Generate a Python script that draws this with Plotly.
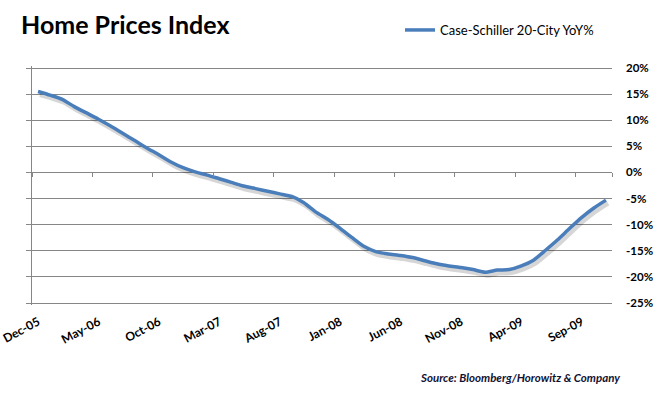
import plotly.graph_objects as go

# ---- data ----
months = [
    "Dec-05", "Jan-06", "Feb-06", "Mar-06", "Apr-06", "May-06", "Jun-06", "Jul-06",
    "Aug-06", "Sep-06", "Oct-06", "Nov-06", "Dec-06", "Jan-07", "Feb-07", "Mar-07",
    "Apr-07", "May-07", "Jun-07", "Jul-07", "Aug-07", "Sep-07", "Oct-07", "Nov-07",
    "Dec-07", "Jan-08", "Feb-08", "Mar-08", "Apr-08", "May-08", "Jun-08", "Jul-08",
    "Aug-08", "Sep-08", "Oct-08", "Nov-08", "Dec-08", "Jan-09", "Feb-09", "Mar-09",
    "Apr-09", "May-09", "Jun-09", "Jul-09", "Aug-09", "Sep-09", "Oct-09", "Nov-09",
]
yoy_pct = [
    15.5, 14.8, 14.0, 12.6, 11.4, 10.2, 8.9, 7.5,
    6.1, 4.7, 3.4, 2.0, 0.9, 0.1, -0.5, -1.2,
    -1.9, -2.6, -3.1, -3.6, -4.1, -4.6, -5.8, -7.6,
    -9.0, -10.7, -12.5, -14.2, -15.2, -15.6, -15.9, -16.3,
    -16.9, -17.5, -17.9, -18.2, -18.6, -19.1, -18.7, -18.6,
    -17.9, -16.8, -14.9, -12.9, -10.7, -8.6, -6.8, -5.3,
]
label_step = 5
y_ticks = [20, 15, 10, 5, 0, -5, -10, -15, -20, -25]
y_tick_text = ["20%", "15%", "10%", "5%", "0%", "-5%", "-10%", "-15%", "-20%", "-25%"]
series_name = "Case-Schiller 20-City YoY%"
title_text = "Home Prices Index"
source_text = "Source: Bloomberg/Horowitz & Company"

# ---- derived ----
n = len(months)
xi = list(range(n))
x_label_vals = xi[::label_step]
x_label_text = months[::label_step]
boundaries = [i - 0.5 for i in range(0, n, label_step)] + [n - 0.5]

W, H = 659, 396
grid_top_px, grid_bot_px = 68, 303      # pixel rows of the 20% and -25% gridlines
edge_px = 2                              # keep edge gridlines inside the plot area
ml, mr = 32, 47
mt, mb = grid_top_px - edge_px, H - grid_bot_px - edge_px
pw = W - ml - mr
ph = H - mt - mb
y_lo, y_hi = min(y_ticks), max(y_ticks)
px_per_pct = (grid_bot_px - grid_top_px) / (y_hi - y_lo)
ypad = edge_px / px_per_pct
y_range = [y_lo - ypad, y_hi + ypad]
x_range = [-0.5, n - 0.5]
px_per_cat = pw / n
sdx = 2 / px_per_cat
sdy = 3 / px_per_pct

grid = "#868686"
blue = "#4a7ebb"
font = "Lato"

fig = go.Figure()
# shadow (base axes with shifted ranges)
fig.add_trace(go.Scatter(
    x=xi, y=yoy_pct, mode="lines", xaxis="x", yaxis="y",
    line=dict(color="rgba(0,0,0,0.16)", width=5, shape="spline", smoothing=0.6),
    showlegend=False, hoverinfo="skip"))
# main line
fig.add_trace(go.Scatter(
    x=xi, y=yoy_pct, mode="lines", xaxis="x2", yaxis="y2", name=series_name,
    line=dict(color=blue, width=3.5, shape="spline", smoothing=0.6)))
# dummy trace for axis decorations (left axis line, category ticks at 0%)
fig.add_trace(go.Scatter(
    x=xi, y=yoy_pct, mode="lines", xaxis="x3", yaxis="y3",
    line=dict(width=0), opacity=0, showlegend=False, hoverinfo="skip"))

fig.update_layout(
    width=W, height=H,
    margin=dict(l=ml, r=mr, t=mt, b=mb),
    paper_bgcolor="white", plot_bgcolor="white",
    font=dict(family=font, color="black"),
    showlegend=True,
    legend=dict(
        x=(400 - ml) / pw, xanchor="left",
        y=(H - mb - 30) / ph, yanchor="middle",
        orientation="h", bgcolor="rgba(0,0,0,0)",
        font=dict(family=font, size=13, color="black"),
        itemwidth=30, tracegroupgap=0),
    xaxis=dict(range=[x_range[0] - sdx, x_range[1] - sdx], visible=False,
               fixedrange=True, automargin=False),
    yaxis=dict(range=[y_range[0] + sdy, y_range[1] + sdy], visible=False,
               fixedrange=True, automargin=False),
    xaxis2=dict(
        overlaying="x", anchor="y2", range=x_range, side="bottom", automargin=False,
        tickmode="array", tickvals=x_label_vals, ticktext=x_label_text,
        tickangle=-28, ticks="", showgrid=False, zeroline=False, showline=False,
        ticklabelstandoff=7, ticklabeloverflow="allow",
        tickfont=dict(family=font, size=12, color="black", weight="bold")),
    yaxis2=dict(
        overlaying="y", anchor="x2", range=y_range, side="right", automargin=False,
        tickmode="array", tickvals=y_ticks, ticktext=y_tick_text,
        showgrid=True, gridcolor=grid, gridwidth=1, zeroline=False, showline=False,
        ticks="", ticklabelstandoff=13,
        tickfont=dict(family=font, size=11.5, color="black", weight="bold")),
    xaxis3=dict(
        overlaying="x", anchor="free", automargin=False,
        position=(0 - y_range[0]) / (y_range[1] - y_range[0]),
        range=x_range, tickmode="array", tickvals=boundaries,
        ticks="outside", ticklen=4, tickcolor=grid, tickwidth=1,
        showticklabels=False, showgrid=False, zeroline=False, showline=False),
    yaxis3=dict(
        overlaying="y", anchor="x3", range=y_range, side="left", automargin=False,
        tickmode="array", tickvals=y_ticks,
        ticks="outside", ticklen=5, tickcolor=grid, tickwidth=1,
        showticklabels=False, showgrid=False, zeroline=False,
        showline=True, linecolor=grid, linewidth=1),
    title=dict(
        text=title_text, x=21 / W, xanchor="left", xref="container",
        y=1 - 25 / H, yanchor="middle", yref="container",
        font=dict(family=font, size=25, color="black", weight="bold")),
    annotations=[dict(
        text=source_text, xref="paper", yref="paper",
        x=(622 - ml) / pw, xanchor="right",
        y=(H - mb - 377) / ph, yanchor="middle", showarrow=False,
        font=dict(family=font, size=11.5, color="#111133", style="italic", weight="bold"))],
)

fig.write_html(
    "out.html",
    config={"displayModeBar": False},
    post_script="document.body.style.margin='0';document.body.style.overflow='hidden';",
)
